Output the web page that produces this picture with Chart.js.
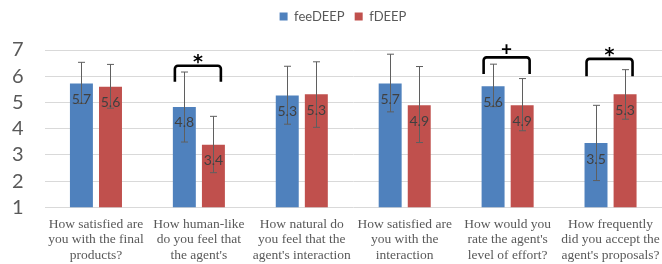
<script src="https://cdn.jsdelivr.net/npm/chart.js"></script>
<style>
  html, body { margin: 0; padding: 0; background: #fff; }
  #wrap { width: 662px; height: 264px; }
</style>
<div id="wrap"><canvas id="myChart"></canvas></div>
<script>
// questions (x axis), already split into lines
var questions = [
  ['How satisfied are', 'you with the final', 'products?'],
  ['How human-like', 'do you feel that', "the agent's"],
  ['How natural do', 'you feel that the', "agent's interaction"],
  ['How satisfied are', 'you with the', 'interaction'],
  ['How would you', "rate the agent's", 'level of effort?'],
  ['How frequently', 'did you accept the', "agent's proposals?"]
];
var yTicks = [1, 2, 3, 4, 5, 6, 7];

// means
var feeDEEP = [5.72, 4.83, 5.26, 5.72, 5.62, 3.45];
var fDEEP   = [5.60, 3.39, 5.31, 4.89, 4.89, 5.31];

// error bar ends (low / high)
var feeDEEP_lo = [4.96, 3.49, 4.17, 4.64, 4.84, 2.02];
var feeDEEP_hi = [6.53, 6.16, 6.38, 6.84, 6.46, 4.89];
var fDEEP_lo   = [4.78, 2.32, 4.05, 3.47, 3.92, 4.36];
var fDEEP_hi   = [6.45, 4.47, 6.55, 6.37, 5.91, 6.25];

// significance brackets: category, mark, bracket top, leg end
var sigIndex = [1, 4, 5];
var sigMark  = ['*', '+', '*'];
var sigTop   = [6.40, 6.72, 6.66];
var sigLeg   = [5.79, 6.08, 6.00];

var errLo = [feeDEEP_lo, fDEEP_lo];
var errHi = [feeDEEP_hi, fDEEP_hi];

var ctx = document.getElementById('myChart').getContext('2d');

// fixed legend band height, legend nudged a bit to the right
var legendBox = {
  id: 'legendBox',
  beforeInit: function(chart) {
    var fit = chart.legend.fit;
    chart.legend.fit = function() {
      fit.bind(chart.legend)();
      this.height = 50;
    };
  },
  afterLayout: function(chart) {
    chart.legend.left += 12;
    chart.legend.right += 12;
  }
};

var extras = {
  id: 'extras',
  afterDatasetsDraw: function(chart) {
    var c = chart.ctx;
    var ys = chart.scales.y;
    var xs = chart.scales.x;
    c.save();
    // error bars
    c.strokeStyle = '#5f5f5f';
    c.lineWidth = 1;
    for (var d = 0; d < 2; d++) {
      var meta = chart.getDatasetMeta(d);
      meta.data.forEach(function(bar, i) {
        var x = Math.round(bar.x) + 0.5;
        var yh = ys.getPixelForValue(errHi[d][i]);
        var yl = ys.getPixelForValue(errLo[d][i]);
        c.beginPath();
        c.moveTo(x, yh); c.lineTo(x, yl);
        c.moveTo(x - 3.5, yh); c.lineTo(x + 3.5, yh);
        c.moveTo(x - 3.5, yl); c.lineTo(x + 3.5, yl);
        c.stroke();
      });
    }
    // data labels
    c.fillStyle = '#404040';
    c.font = '14px Lato';
    c.textAlign = 'center';
    c.textBaseline = 'middle';
    for (var d2 = 0; d2 < 2; d2++) {
      var vals = chart.data.datasets[d2].data;
      chart.getDatasetMeta(d2).data.forEach(function(bar, i) {
        c.fillText(vals[i].toFixed(1), bar.x, bar.y + 16);
      });
    }
    // significance brackets
    c.strokeStyle = '#000';
    c.lineWidth = 2.6;
    c.lineJoin = 'round';
    c.lineCap = 'butt';
    sigIndex.forEach(function(k, n) {
      var cx = xs.getPixelForValue(k) - 1;
      var x0 = cx - 23, x1 = cx + 23;
      var yt = ys.getPixelForValue(sigTop[n]);
      var yb = ys.getPixelForValue(sigLeg[n]);
      c.beginPath();
      c.moveTo(x0, yb);
      c.arcTo(x0, yt, x1, yt, 3);
      c.arcTo(x1, yt, x1, yb, 3);
      c.lineTo(x1, yb);
      c.stroke();
      c.fillStyle = '#000';
      c.textAlign = 'center';
      if (sigMark[n] === '*') {
        c.font = 'bold 19px "DejaVu Sans"';
        c.textBaseline = 'alphabetic';
        c.fillText('*', cx, yt + 2);
      } else {
        c.font = 'bold 19px Lato';
        c.textBaseline = 'middle';
        c.fillText('+', cx, yt - 7);
      }
    });
    c.restore();
  }
};

var myChart = new Chart(ctx, {
  type: 'bar',
  data: {
    labels: questions,
    datasets: [{
      label: 'feeDEEP',
      data: feeDEEP,
      backgroundColor: '#4f81bd',
      categoryPercentage: 0.565,
      barPercentage: 0.79
    }, {
      label: 'fDEEP',
      data: fDEEP,
      backgroundColor: '#c0504d',
      categoryPercentage: 0.565,
      barPercentage: 0.79
    }]
  },
  options: {
    responsive: true,
    maintainAspectRatio: false,
    animation: false,
    layout: { padding: 0 },
    plugins: {
      tooltip: { enabled: false },
      legend: {
        position: 'top',
        labels: {
          boxWidth: 8,
          boxHeight: 8,
          padding: 10,
          color: '#595959',
          font: { family: 'Lato', size: 13 }
        }
      }
    },
    scales: {
      x: {
        grid: { display: false, drawTicks: false },
        border: { display: false },
        ticks: {
          color: '#595959',
          font: { family: '"Liberation Serif"', size: 13.5, lineHeight: 1.15 },
          padding: 9,
          maxRotation: 0,
          autoSkip: false
        },
        afterFit: function(s) {
          s.height = 264 - 207.3;
          s.paddingLeft = 0;
          s.paddingRight = 0;
        }
      },
      y: {
        min: 1,
        max: 7,
        afterBuildTicks: function(s) {
          s.ticks = yTicks.map(function(v) { return { value: v }; });
        },
        grid: { color: '#d9d9d9', drawTicks: false },
        border: { display: false },
        ticks: {
          color: '#595959',
          font: { family: 'Lato', size: 20 },
          padding: 21,
          autoSkip: false
        },
        afterFit: function(s) {
          s.width = 44.5;
          s.paddingTop = 0;
          s.paddingBottom = 0;
        }
      }
    }
  },
  plugins: [legendBox, extras]
});
</script>
